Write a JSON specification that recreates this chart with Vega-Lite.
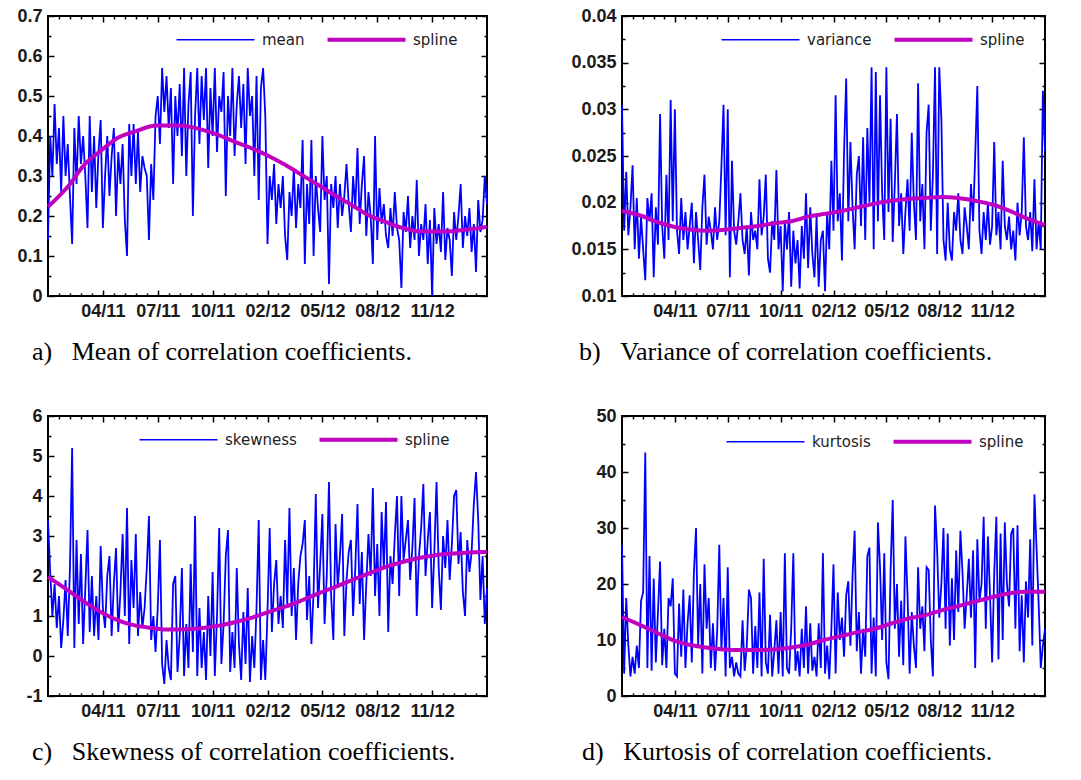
{
"$schema": "https://vega.github.io/schema/vega-lite/v6.json",
"background": "white",
"padding": {"left": 15, "top": 6, "right": 5, "bottom": 5},
"bounds": "flush",
"columns": 2,
"spacing": {"row": 120, "column": 135},
"resolve": {"scale": {"color": "independent"}, "legend": {"color": "independent"}},
"config": {
  "view": {"stroke": "#000", "strokeWidth": 2},
  "axis": {"grid": false, "domain": false, "tickColor": "#000", "tickWidth": 1.5, "labelFont": "Liberation Sans", "labelFontWeight": "bold", "labelFontSize": 18, "labelColor": "#1a1a1a", "labelFlush": false, "labelOverlap": false, "labelPadding": 12},
  "legend": {"orient": "none", "direction": "horizontal", "symbolType": "M-4,0H4", "symbolSize": 380, "labelOffset": 39, "columnPadding": 14, "labelFont": "DejaVu Sans", "labelFontSize": 15, "labelColor": "#222", "padding": 0, "symbolStrokeWidth": 1.5},
  "title": {"font": "Liberation Serif", "fontSize": 26, "fontWeight": "normal", "color": "#000", "orient": "bottom", "anchor": "start", "frame": "group", "offset": 19}
},
"datasets": {
"raw": [
{"i":0,"m":0.14,"v":0.0305,"s":3.4,"k":27},
{"i":1,"m":0.40,"v":0.017,"s":2.1,"k":4},
{"i":2,"m":0.30,"v":0.0233,"s":1.0,"k":17.5},
{"i":3,"m":0.48,"v":0.0165,"s":1.8,"k":9},
{"i":4,"m":0.33,"v":0.0195,"s":0.7,"k":3.5},
{"i":5,"m":0.42,"v":0.024,"s":1.5,"k":7},
{"i":6,"m":0.26,"v":0.015,"s":0.2,"k":4},
{"i":7,"m":0.45,"v":0.0205,"s":0.9,"k":9},
{"i":8,"m":0.30,"v":0.014,"s":1.9,"k":5},
{"i":9,"m":0.38,"v":0.0185,"s":0.5,"k":17},
{"i":10,"m":0.25,"v":0.015,"s":2.2,"k":18.5},
{"i":11,"m":0.13,"v":0.0117,"s":5.2,"k":43.5},
{"i":12,"m":0.42,"v":0.0205,"s":0.2,"k":5},
{"i":13,"m":0.28,"v":0.018,"s":2.9,"k":25},
{"i":14,"m":0.45,"v":0.021,"s":0.8,"k":4.5},
{"i":15,"m":0.33,"v":0.012,"s":2.55,"k":21},
{"i":16,"m":0.40,"v":0.0195,"s":0.3,"k":6},
{"i":17,"m":0.30,"v":0.0155,"s":1.7,"k":15},
{"i":18,"m":0.17,"v":0.0295,"s":3.15,"k":24},
{"i":19,"m":0.45,"v":0.0175,"s":0.6,"k":5.5},
{"i":20,"m":0.26,"v":0.014,"s":2.0,"k":12},
{"i":21,"m":0.40,"v":0.023,"s":0.5,"k":5},
{"i":22,"m":0.22,"v":0.016,"s":1.5,"k":17.5},
{"i":23,"m":0.36,"v":0.031,"s":0.4,"k":16},
{"i":24,"m":0.44,"v":0.018,"s":2.75,"k":21},
{"i":25,"m":0.17,"v":0.03,"s":1.2,"k":4},
{"i":26,"m":0.30,"v":0.017,"s":0.7,"k":3.5},
{"i":27,"m":0.40,"v":0.0145,"s":2.0,"k":16.5},
{"i":28,"m":0.25,"v":0.0205,"s":2.5,"k":7},
{"i":29,"m":0.35,"v":0.016,"s":0.5,"k":19},
{"i":30,"m":0.42,"v":0.019,"s":1.8,"k":5},
{"i":31,"m":0.20,"v":0.015,"s":2.7,"k":13},
{"i":32,"m":0.36,"v":0.0175,"s":0.6,"k":18},
{"i":33,"m":0.28,"v":0.02,"s":1.6,"k":6},
{"i":34,"m":0.38,"v":0.0135,"s":3.05,"k":22},
{"i":35,"m":0.19,"v":0.019,"s":1.0,"k":30},
{"i":36,"m":0.10,"v":0.016,"s":3.7,"k":9},
{"i":37,"m":0.43,"v":0.0128,"s":0.3,"k":20},
{"i":38,"m":0.30,"v":0.0195,"s":2.4,"k":4},
{"i":39,"m":0.43,"v":0.023,"s":1.2,"k":23.5},
{"i":40,"m":0.28,"v":0.0155,"s":3.05,"k":12},
{"i":41,"m":0.41,"v":0.0185,"s":0.5,"k":17.5},
{"i":42,"m":0.26,"v":0.017,"s":1.6,"k":5},
{"i":43,"m":0.35,"v":0.015,"s":0.7,"k":13},
{"i":44,"m":0.32,"v":0.0195,"s":1.2,"k":4.5},
{"i":45,"m":0.30,"v":0.016,"s":2.2,"k":11.5},
{"i":46,"m":0.14,"v":0.018,"s":3.5,"k":27},
{"i":47,"m":0.33,"v":0.0238,"s":0.4,"k":8},
{"i":48,"m":0.24,"v":0.0305,"s":1.0,"k":17.5},
{"i":49,"m":0.45,"v":0.0165,"s":0.1,"k":3.5},
{"i":50,"m":0.50,"v":0.03,"s":1.2,"k":23},
{"i":51,"m":0.38,"v":0.012,"s":2.9,"k":5},
{"i":52,"m":0.57,"v":0.0245,"s":-0.2,"k":7},
{"i":53,"m":0.46,"v":0.017,"s":-0.7,"k":3.5},
{"i":54,"m":0.55,"v":0.0155,"s":0.4,"k":6},
{"i":55,"m":0.42,"v":0.018,"s":-0.3,"k":4},
{"i":56,"m":0.52,"v":0.021,"s":-0.6,"k":3.5},
{"i":57,"m":0.28,"v":0.016,"s":1.8,"k":13.5},
{"i":58,"m":0.50,"v":0.0145,"s":2.0,"k":4.5},
{"i":59,"m":0.40,"v":0.0175,"s":-0.4,"k":9},
{"i":60,"m":0.53,"v":0.0122,"s":0.5,"k":19},
{"i":61,"m":0.35,"v":0.019,"s":2.2,"k":17.5},
{"i":62,"m":0.57,"v":0.016,"s":-0.5,"k":4},
{"i":63,"m":0.30,"v":0.017,"s":0.8,"k":12.5},
{"i":64,"m":0.48,"v":0.015,"s":-0.3,"k":5},
{"i":65,"m":0.56,"v":0.0225,"s":2.3,"k":18.5},
{"i":66,"m":0.20,"v":0.0165,"s":0.1,"k":3.5},
{"i":67,"m":0.45,"v":0.0185,"s":3.5,"k":24.5},
{"i":68,"m":0.57,"v":0.023,"s":-0.5,"k":6},
{"i":69,"m":0.38,"v":0.014,"s":1.2,"k":4},
{"i":70,"m":0.55,"v":0.0125,"s":-0.3,"k":14.5},
{"i":71,"m":0.44,"v":0.018,"s":0.6,"k":3.5},
{"i":72,"m":0.57,"v":0.016,"s":-0.6,"k":8},
{"i":73,"m":0.32,"v":0.0235,"s":1.5,"k":13.5},
{"i":74,"m":0.52,"v":0.015,"s":0.0,"k":4},
{"i":75,"m":0.40,"v":0.0175,"s":2.1,"k":15},
{"i":76,"m":0.57,"v":0.0105,"s":-0.5,"k":3.5},
{"i":77,"m":0.36,"v":0.018,"s":1.0,"k":25.5},
{"i":78,"m":0.50,"v":0.015,"s":3.2,"k":5},
{"i":79,"m":0.46,"v":0.019,"s":-0.2,"k":4},
{"i":80,"m":0.56,"v":0.011,"s":0.8,"k":12},
{"i":81,"m":0.25,"v":0.017,"s":2.5,"k":25.5},
{"i":82,"m":0.50,"v":0.0135,"s":3.15,"k":4.5},
{"i":83,"m":0.40,"v":0.016,"s":-0.4,"k":8},
{"i":84,"m":0.57,"v":0.0108,"s":0.6,"k":3.5},
{"i":85,"m":0.35,"v":0.0175,"s":-0.3,"k":12},
{"i":86,"m":0.48,"v":0.014,"s":2.2,"k":5},
{"i":87,"m":0.55,"v":0.021,"s":0.3,"k":16},
{"i":88,"m":0.42,"v":0.013,"s":-0.6,"k":4},
{"i":89,"m":0.53,"v":0.0195,"s":1.1,"k":13},
{"i":90,"m":0.33,"v":0.0145,"s":-0.2,"k":4.5},
{"i":91,"m":0.57,"v":0.012,"s":1.7,"k":7},
{"i":92,"m":0.45,"v":0.0185,"s":-0.65,"k":3.5},
{"i":93,"m":0.50,"v":0.011,"s":0.5,"k":13},
{"i":94,"m":0.30,"v":0.016,"s":-0.3,"k":5},
{"i":95,"m":0.55,"v":0.017,"s":1.2,"k":25.5},
{"i":96,"m":0.24,"v":0.0105,"s":3.4,"k":4},
{"i":97,"m":0.52,"v":0.019,"s":-0.6,"k":9},
{"i":98,"m":0.57,"v":0.015,"s":0.4,"k":3},
{"i":99,"m":0.45,"v":0.0245,"s":-0.6,"k":12},
{"i":100,"m":0.13,"v":0.017,"s":1.1,"k":23.5},
{"i":101,"m":0.30,"v":0.0315,"s":3.2,"k":4},
{"i":102,"m":0.24,"v":0.018,"s":0.6,"k":18.5},
{"i":103,"m":0.33,"v":0.021,"s":1.8,"k":10},
{"i":104,"m":0.18,"v":0.0138,"s":2.4,"k":14},
{"i":105,"m":0.28,"v":0.0255,"s":0.8,"k":7},
{"i":106,"m":0.22,"v":0.0333,"s":1.5,"k":18},
{"i":107,"m":0.30,"v":0.018,"s":0.7,"k":20.5},
{"i":108,"m":0.15,"v":0.0265,"s":2.9,"k":9},
{"i":109,"m":0.09,"v":0.0195,"s":1.3,"k":21.5},
{"i":110,"m":0.26,"v":0.015,"s":3.7,"k":29.5},
{"i":111,"m":0.20,"v":0.023,"s":1.0,"k":8},
{"i":112,"m":0.32,"v":0.025,"s":2.2,"k":15},
{"i":113,"m":0.17,"v":0.0175,"s":0.4,"k":4},
{"i":114,"m":0.28,"v":0.027,"s":1.8,"k":12},
{"i":115,"m":0.22,"v":0.016,"s":2.5,"k":7},
{"i":116,"m":0.39,"v":0.028,"s":2.8,"k":25},
{"i":117,"m":0.08,"v":0.02,"s":3.4,"k":26.5},
{"i":118,"m":0.28,"v":0.0345,"s":0.9,"k":4},
{"i":119,"m":0.18,"v":0.015,"s":2.0,"k":14},
{"i":120,"m":0.39,"v":0.034,"s":0.3,"k":3.5},
{"i":121,"m":0.10,"v":0.018,"s":1.6,"k":31},
{"i":122,"m":0.30,"v":0.0315,"s":4.05,"k":23},
{"i":123,"m":0.22,"v":0.021,"s":1.2,"k":10},
{"i":124,"m":0.16,"v":0.016,"s":2.3,"k":25.5},
{"i":125,"m":0.40,"v":0.0345,"s":3.55,"k":6},
{"i":126,"m":0.24,"v":0.019,"s":0.8,"k":3},
{"i":127,"m":0.30,"v":0.029,"s":2.0,"k":22.5},
{"i":128,"m":0.03,"v":0.0158,"s":4.35,"k":35},
{"i":129,"m":0.28,"v":0.022,"s":1.5,"k":12},
{"i":130,"m":0.22,"v":0.0295,"s":0.4,"k":20},
{"i":131,"m":0.30,"v":0.0175,"s":3.3,"k":7},
{"i":132,"m":0.17,"v":0.021,"s":1.7,"k":17},
{"i":133,"m":0.28,"v":0.0145,"s":2.5,"k":5.5},
{"i":134,"m":0.20,"v":0.019,"s":3.55,"k":28.5},
{"i":135,"m":0.25,"v":0.0225,"s":0.5,"k":18},
{"i":136,"m":0.33,"v":0.017,"s":1.9,"k":4},
{"i":137,"m":0.23,"v":0.0275,"s":2.6,"k":15},
{"i":138,"m":0.16,"v":0.02,"s":2.9,"k":9},
{"i":139,"m":0.30,"v":0.016,"s":1.0,"k":5},
{"i":140,"m":0.22,"v":0.0328,"s":2.2,"k":23},
{"i":141,"m":0.37,"v":0.018,"s":3.8,"k":12},
{"i":142,"m":0.18,"v":0.022,"s":1.3,"k":16},
{"i":143,"m":0.28,"v":0.015,"s":2.6,"k":8},
{"i":144,"m":0.35,"v":0.0275,"s":0.4,"k":23},
{"i":145,"m":0.15,"v":0.0305,"s":1.8,"k":22.5},
{"i":146,"m":0.26,"v":0.017,"s":3.05,"k":10},
{"i":147,"m":0.20,"v":0.023,"s":2.0,"k":3.5},
{"i":148,"m":0.08,"v":0.0345,"s":4.2,"k":34},
{"i":149,"m":0.40,"v":0.0145,"s":1.5,"k":26},
{"i":150,"m":0.14,"v":0.0345,"s":2.8,"k":14},
{"i":151,"m":0.27,"v":0.029,"s":1.0,"k":20},
{"i":152,"m":0.18,"v":0.016,"s":3.6,"k":30},
{"i":153,"m":0.23,"v":0.0138,"s":2.2,"k":12},
{"i":154,"m":0.15,"v":0.02,"s":3.85,"k":29},
{"i":155,"m":0.12,"v":0.015,"s":0.6,"k":9},
{"i":156,"m":0.22,"v":0.0138,"s":2.5,"k":21},
{"i":157,"m":0.15,"v":0.019,"s":1.8,"k":10},
{"i":158,"m":0.26,"v":0.017,"s":3.0,"k":26},
{"i":159,"m":0.17,"v":0.021,"s":4.0,"k":15},
{"i":160,"m":0.14,"v":0.016,"s":1.5,"k":29.5},
{"i":161,"m":0.02,"v":0.0145,"s":4.0,"k":22},
{"i":162,"m":0.21,"v":0.0195,"s":2.4,"k":12},
{"i":163,"m":0.16,"v":0.0175,"s":2.9,"k":18},
{"i":164,"m":0.25,"v":0.015,"s":3.4,"k":24.5},
{"i":165,"m":0.12,"v":0.022,"s":1.9,"k":14},
{"i":166,"m":0.20,"v":0.018,"s":2.7,"k":26},
{"i":167,"m":0.14,"v":0.025,"s":3.95,"k":5},
{"i":168,"m":0.29,"v":0.0325,"s":1.0,"k":28},
{"i":169,"m":0.10,"v":0.017,"s":2.5,"k":17},
{"i":170,"m":0.18,"v":0.0145,"s":3.2,"k":20},
{"i":171,"m":0.14,"v":0.019,"s":4.3,"k":32},
{"i":172,"m":0.23,"v":0.016,"s":2.0,"k":12},
{"i":173,"m":0.08,"v":0.02,"s":2.9,"k":28.5},
{"i":174,"m":0.19,"v":0.0155,"s":3.6,"k":18},
{"i":175,"m":0.00,"v":0.0175,"s":1.2,"k":6},
{"i":176,"m":0.22,"v":0.0265,"s":2.6,"k":22},
{"i":177,"m":0.13,"v":0.0165,"s":4.35,"k":32},
{"i":178,"m":0.18,"v":0.019,"s":2.2,"k":6.5},
{"i":179,"m":0.11,"v":0.015,"s":1.15,"k":29},
{"i":180,"m":0.26,"v":0.0245,"s":3.0,"k":10},
{"i":181,"m":0.09,"v":0.0175,"s":2.2,"k":31},
{"i":182,"m":0.17,"v":0.016,"s":3.4,"k":20},
{"i":183,"m":0.14,"v":0.0185,"s":1.9,"k":16},
{"i":184,"m":0.05,"v":0.015,"s":2.8,"k":29},
{"i":185,"m":0.21,"v":0.017,"s":4.0,"k":30},
{"i":186,"m":0.14,"v":0.0138,"s":4.15,"k":12},
{"i":187,"m":0.20,"v":0.02,"s":2.3,"k":30.5},
{"i":188,"m":0.28,"v":0.0165,"s":3.1,"k":8},
{"i":189,"m":0.12,"v":0.019,"s":1.6,"k":18},
{"i":190,"m":0.20,"v":0.027,"s":1.0,"k":6},
{"i":191,"m":0.15,"v":0.0175,"s":2.9,"k":20.5},
{"i":192,"m":0.22,"v":0.016,"s":2.1,"k":14},
{"i":193,"m":0.11,"v":0.019,"s":2.6,"k":28},
{"i":194,"m":0.18,"v":0.0148,"s":3.8,"k":9},
{"i":195,"m":0.06,"v":0.0225,"s":4.6,"k":36},
{"i":196,"m":0.24,"v":0.015,"s":3.4,"k":26.5},
{"i":197,"m":0.16,"v":0.018,"s":1.4,"k":16.5},
{"i":198,"m":0.19,"v":0.015,"s":2.5,"k":5},
{"i":199,"m":0.30,"v":0.032,"s":0.8,"k":9},
{"i":200,"m":0.23,"v":0.0255,"s":1.7,"k":12}
],
"sa": [{"i":0,"y":0.223},{"i":9,"y":0.273},{"i":16.5,"y":0.328},{"i":24.5,"y":0.365},{"i":32,"y":0.396},{"i":39.5,"y":0.411},{"i":49.5,"y":0.426},{"i":59.5,"y":0.426},{"i":70,"y":0.416},{"i":77.5,"y":0.403},{"i":85,"y":0.386},{"i":92.5,"y":0.37},{"i":100.5,"y":0.35},{"i":108,"y":0.328},{"i":115.5,"y":0.303},{"i":123,"y":0.278},{"i":130.5,"y":0.252},{"i":138.5,"y":0.227},{"i":146,"y":0.202},{"i":153.5,"y":0.186},{"i":161,"y":0.171},{"i":168.5,"y":0.162},{"i":176.5,"y":0.161},{"i":184,"y":0.162},{"i":191.5,"y":0.166},{"i":200,"y":0.173}],
"sb": [{"i":0,"y":0.0191},{"i":9,"y":0.0186},{"i":17,"y":0.0179},{"i":25,"y":0.0174},{"i":33,"y":0.0171},{"i":40.5,"y":0.017},{"i":48.5,"y":0.0171},{"i":56.5,"y":0.0173},{"i":64.5,"y":0.0175},{"i":72,"y":0.0178},{"i":80,"y":0.018},{"i":88,"y":0.0185},{"i":96,"y":0.0188},{"i":104,"y":0.0191},{"i":111.5,"y":0.0195},{"i":119.5,"y":0.0199},{"i":127.5,"y":0.0202},{"i":135.5,"y":0.0204},{"i":143,"y":0.0205},{"i":151,"y":0.0206},{"i":159,"y":0.0205},{"i":167,"y":0.0202},{"i":175,"y":0.0198},{"i":182.5,"y":0.0192},{"i":190.5,"y":0.0184},{"i":200,"y":0.0176}],
"sc": [{"i":0,"y":1.98},{"i":10,"y":1.61},{"i":17.5,"y":1.32},{"i":25,"y":1.07},{"i":32.5,"y":0.88},{"i":40,"y":0.76},{"i":47.5,"y":0.7},{"i":55.5,"y":0.66},{"i":63,"y":0.67},{"i":70.5,"y":0.7},{"i":78,"y":0.76},{"i":85.5,"y":0.85},{"i":93,"y":0.96},{"i":101,"y":1.11},{"i":108.5,"y":1.24},{"i":116,"y":1.4},{"i":123.5,"y":1.57},{"i":131,"y":1.73},{"i":138.5,"y":1.9},{"i":146,"y":2.06},{"i":154,"y":2.23},{"i":161.5,"y":2.35},{"i":169,"y":2.45},{"i":176.5,"y":2.52},{"i":184,"y":2.56},{"i":191.5,"y":2.59},{"i":200,"y":2.6}],
"sd": [{"i":0,"y":14.1},{"i":9,"y":12.6},{"i":17,"y":11.2},{"i":25,"y":9.85},{"i":33,"y":9.07},{"i":40.5,"y":8.6},{"i":48.5,"y":8.3},{"i":56.5,"y":8.2},{"i":64.5,"y":8.2},{"i":72,"y":8.3},{"i":80,"y":8.66},{"i":88,"y":9.2},{"i":95.5,"y":10},{"i":103.5,"y":10.7},{"i":111.5,"y":11.4},{"i":119.5,"y":12},{"i":127,"y":12.9},{"i":135,"y":13.8},{"i":143,"y":14.4},{"i":151,"y":15.3},{"i":158.5,"y":16},{"i":166.5,"y":16.8},{"i":174.5,"y":17.6},{"i":182.5,"y":18.3},{"i":190,"y":18.6},{"i":200,"y":18.6}]
},
"concat": [
{
 "width": 439, "height": 280,
 "title": {"text": "a)\u00a0\u00a0\u00a0Mean of correlation coefficients.", "dx": -16},
 "resolve": {"axis": {"x": "independent", "y": "independent"}},
 "layer": [
  {"data": {"name": "raw"}, "mark": {"type": "line", "strokeWidth": 1.8},
   "encoding": {
    "x": {"field": "i", "type": "quantitative", "title": null, "scale": {"domain": [0, 200], "nice": false, "zero": false}, "axis": {"orient": "bottom", "values": [25,50,75,100,125,150,175], "tickSize": -6, "labelExpr": "['','04/11','07/11','10/11','02/12','05/12','08/12','11/12',''][round(datum.value/25)]"}},
    "y": {"field": "m", "type": "quantitative", "title": null, "scale": {"domain": [0, 0.7], "nice": false, "zero": false}, "axis": {"orient": "left", "values": [0,0.1,0.2,0.3,0.4,0.5,0.6,0.7], "tickSize": -6, "labelExpr": "toString(datum.value)"}},
    "color": {"datum": "mean", "type": "nominal", "scale": {"domain": ["mean", "spline"], "range": ["#0000ff", "#c000c0"]}, "legend": {"title": null, "legendX": 160, "legendY": 16, "encode": {"symbols": {"update": {"strokeWidth": {"signal": "datum.value === 'spline' ? 4 : 1.5"}}}}}}
   }},
  {"data": {"name": "sa"}, "mark": {"type": "line", "strokeWidth": 4, "interpolate": "monotone"},
   "encoding": {
    "x": {"field": "i", "type": "quantitative", "title": null, "axis": {"orient": "top", "values": [25,50,75,100,125,150,175], "tickSize": -6, "labels": false}},
    "y": {"field": "y", "type": "quantitative", "title": null, "axis": {"orient": "right", "values": [0,0.1,0.2,0.3,0.4,0.5,0.6,0.7], "tickSize": -6, "labels": false}},
    "color": {"datum": "spline", "type": "nominal"}
   }},
  {"data": {"name": "sa"}, "mark": {"type": "line", "opacity": 0},
   "encoding": {
    "x": {"field": "i", "type": "quantitative", "title": null, "axis": {"orient": "bottom", "values": [5,10,15,20,30,35,40,45,55,60,65,70,80,85,90,95,105,110,115,120,130,135,140,145,155,160,165,170,180,185,190,195], "tickSize": -3, "labels": false}},
    "y": {"field": "y", "type": "quantitative", "title": null, "axis": {"orient": "left", "values": [0.05,0.15,0.25,0.35,0.45,0.55,0.65], "tickSize": -3, "labels": false}}
   }},
  {"data": {"name": "sa"}, "mark": {"type": "line", "opacity": 0},
   "encoding": {
    "x": {"field": "i", "type": "quantitative", "title": null, "axis": {"orient": "top", "values": [5,10,15,20,30,35,40,45,55,60,65,70,80,85,90,95,105,110,115,120,130,135,140,145,155,160,165,170,180,185,190,195], "tickSize": -3, "labels": false}},
    "y": {"field": "y", "type": "quantitative", "title": null, "axis": {"orient": "right", "values": [0.05,0.15,0.25,0.35,0.45,0.55,0.65], "tickSize": -3, "labels": false}}
   }}
 ]
},
{
 "width": 423, "height": 280,
 "title": {"text": "b)\u00a0\u00a0\u00a0Variance of correlation coefficients.", "dx": -43},
 "resolve": {"axis": {"x": "independent", "y": "independent"}},
 "layer": [
  {"data": {"name": "raw"}, "mark": {"type": "line", "strokeWidth": 1.8},
   "encoding": {
    "x": {"field": "i", "type": "quantitative", "title": null, "scale": {"domain": [0, 200], "nice": false, "zero": false}, "axis": {"orient": "bottom", "values": [25,50,75,100,125,150,175], "tickSize": -6, "labelExpr": "['','04/11','07/11','10/11','02/12','05/12','08/12','11/12',''][round(datum.value/25)]"}},
    "y": {"field": "v", "type": "quantitative", "title": null, "scale": {"domain": [0.01, 0.04], "nice": false, "zero": false}, "axis": {"orient": "left", "values": [0.01,0.015,0.02,0.025,0.03,0.035,0.04], "tickSize": -6, "labelExpr": "toString(datum.value)"}},
    "color": {"datum": "variance", "type": "nominal", "scale": {"domain": ["variance", "spline"], "range": ["#0000ff", "#c000c0"]}, "legend": {"title": null, "legendX": 131, "legendY": 16, "encode": {"symbols": {"update": {"strokeWidth": {"signal": "datum.value === 'spline' ? 4 : 1.5"}}}}}}
   }},
  {"data": {"name": "sb"}, "mark": {"type": "line", "strokeWidth": 4, "interpolate": "monotone"},
   "encoding": {
    "x": {"field": "i", "type": "quantitative", "title": null, "axis": {"orient": "top", "values": [25,50,75,100,125,150,175], "tickSize": -6, "labels": false}},
    "y": {"field": "y", "type": "quantitative", "title": null, "axis": {"orient": "right", "values": [0.01,0.015,0.02,0.025,0.03,0.035,0.04], "tickSize": -6, "labels": false}},
    "color": {"datum": "spline", "type": "nominal"}
   }},
  {"data": {"name": "sb"}, "mark": {"type": "line", "opacity": 0},
   "encoding": {
    "x": {"field": "i", "type": "quantitative", "title": null, "axis": {"orient": "bottom", "values": [5,10,15,20,30,35,40,45,55,60,65,70,80,85,90,95,105,110,115,120,130,135,140,145,155,160,165,170,180,185,190,195], "tickSize": -3, "labels": false}},
    "y": {"field": "y", "type": "quantitative", "title": null, "axis": {"orient": "left", "values": [0.0125,0.0175,0.0225,0.0275,0.0325,0.0375], "tickSize": -3, "labels": false}}
   }},
  {"data": {"name": "sb"}, "mark": {"type": "line", "opacity": 0},
   "encoding": {
    "x": {"field": "i", "type": "quantitative", "title": null, "axis": {"orient": "top", "values": [5,10,15,20,30,35,40,45,55,60,65,70,80,85,90,95,105,110,115,120,130,135,140,145,155,160,165,170,180,185,190,195], "tickSize": -3, "labels": false}},
    "y": {"field": "y", "type": "quantitative", "title": null, "axis": {"orient": "right", "values": [0.0125,0.0175,0.0225,0.0275,0.0325,0.0375], "tickSize": -3, "labels": false}}
   }}
 ]
},
{
 "width": 439, "height": 280,
 "title": {"text": "c)\u00a0\u00a0\u00a0Skewness of correlation coefficients.", "dx": -16},
 "resolve": {"axis": {"x": "independent", "y": "independent"}},
 "layer": [
  {"data": {"name": "raw"}, "mark": {"type": "line", "strokeWidth": 1.8},
   "encoding": {
    "x": {"field": "i", "type": "quantitative", "title": null, "scale": {"domain": [0, 200], "nice": false, "zero": false}, "axis": {"orient": "bottom", "values": [25,50,75,100,125,150,175], "tickSize": -6, "labelExpr": "['','04/11','07/11','10/11','02/12','05/12','08/12','11/12',''][round(datum.value/25)]"}},
    "y": {"field": "s", "type": "quantitative", "title": null, "scale": {"domain": [-1, 6], "nice": false, "zero": false}, "axis": {"orient": "left", "values": [-1,0,1,2,3,4,5,6], "tickSize": -6, "labelExpr": "toString(datum.value)"}},
    "color": {"datum": "skewness", "type": "nominal", "scale": {"domain": ["skewness", "spline"], "range": ["#0000ff", "#c000c0"]}, "legend": {"title": null, "legendX": 123, "legendY": 16, "encode": {"symbols": {"update": {"strokeWidth": {"signal": "datum.value === 'spline' ? 4 : 1.5"}}}}}}
   }},
  {"data": {"name": "sc"}, "mark": {"type": "line", "strokeWidth": 4, "interpolate": "monotone"},
   "encoding": {
    "x": {"field": "i", "type": "quantitative", "title": null, "axis": {"orient": "top", "values": [25,50,75,100,125,150,175], "tickSize": -6, "labels": false}},
    "y": {"field": "y", "type": "quantitative", "title": null, "axis": {"orient": "right", "values": [-1,0,1,2,3,4,5,6], "tickSize": -6, "labels": false}},
    "color": {"datum": "spline", "type": "nominal"}
   }},
  {"data": {"name": "sc"}, "mark": {"type": "line", "opacity": 0},
   "encoding": {
    "x": {"field": "i", "type": "quantitative", "title": null, "axis": {"orient": "bottom", "values": [5,10,15,20,30,35,40,45,55,60,65,70,80,85,90,95,105,110,115,120,130,135,140,145,155,160,165,170,180,185,190,195], "tickSize": -3, "labels": false}},
    "y": {"field": "y", "type": "quantitative", "title": null, "axis": {"orient": "left", "values": [-0.5,0.5,1.5,2.5,3.5,4.5,5.5], "tickSize": -3, "labels": false}}
   }},
  {"data": {"name": "sc"}, "mark": {"type": "line", "opacity": 0},
   "encoding": {
    "x": {"field": "i", "type": "quantitative", "title": null, "axis": {"orient": "top", "values": [5,10,15,20,30,35,40,45,55,60,65,70,80,85,90,95,105,110,115,120,130,135,140,145,155,160,165,170,180,185,190,195], "tickSize": -3, "labels": false}},
    "y": {"field": "y", "type": "quantitative", "title": null, "axis": {"orient": "right", "values": [-0.5,0.5,1.5,2.5,3.5,4.5,5.5], "tickSize": -3, "labels": false}}
   }}
 ]
},
{
 "width": 423, "height": 280,
 "title": {"text": "d)\u00a0\u00a0\u00a0Kurtosis of correlation coefficients.", "dx": -40},
 "resolve": {"axis": {"x": "independent", "y": "independent"}},
 "layer": [
  {"data": {"name": "raw"}, "mark": {"type": "line", "strokeWidth": 1.8},
   "encoding": {
    "x": {"field": "i", "type": "quantitative", "title": null, "scale": {"domain": [0, 200], "nice": false, "zero": false}, "axis": {"orient": "bottom", "values": [25,50,75,100,125,150,175], "tickSize": -6, "labelExpr": "['','04/11','07/11','10/11','02/12','05/12','08/12','11/12',''][round(datum.value/25)]"}},
    "y": {"field": "k", "type": "quantitative", "title": null, "scale": {"domain": [0, 50], "nice": false, "zero": false}, "axis": {"orient": "left", "values": [0,10,20,30,40,50], "tickSize": -6, "labelExpr": "toString(datum.value)"}},
    "color": {"datum": "kurtosis", "type": "nominal", "scale": {"domain": ["kurtosis", "spline"], "range": ["#0000ff", "#c000c0"]}, "legend": {"title": null, "legendX": 136, "legendY": 18, "encode": {"symbols": {"update": {"strokeWidth": {"signal": "datum.value === 'spline' ? 4 : 1.5"}}}}}}
   }},
  {"data": {"name": "sd"}, "mark": {"type": "line", "strokeWidth": 4, "interpolate": "monotone"},
   "encoding": {
    "x": {"field": "i", "type": "quantitative", "title": null, "axis": {"orient": "top", "values": [25,50,75,100,125,150,175], "tickSize": -6, "labels": false}},
    "y": {"field": "y", "type": "quantitative", "title": null, "axis": {"orient": "right", "values": [0,10,20,30,40,50], "tickSize": -6, "labels": false}},
    "color": {"datum": "spline", "type": "nominal"}
   }},
  {"data": {"name": "sd"}, "mark": {"type": "line", "opacity": 0},
   "encoding": {
    "x": {"field": "i", "type": "quantitative", "title": null, "axis": {"orient": "bottom", "values": [5,10,15,20,30,35,40,45,55,60,65,70,80,85,90,95,105,110,115,120,130,135,140,145,155,160,165,170,180,185,190,195], "tickSize": -3, "labels": false}},
    "y": {"field": "y", "type": "quantitative", "title": null, "axis": {"orient": "left", "values": [5,15,25,35,45], "tickSize": -3, "labels": false}}
   }},
  {"data": {"name": "sd"}, "mark": {"type": "line", "opacity": 0},
   "encoding": {
    "x": {"field": "i", "type": "quantitative", "title": null, "axis": {"orient": "top", "values": [5,10,15,20,30,35,40,45,55,60,65,70,80,85,90,95,105,110,115,120,130,135,140,145,155,160,165,170,180,185,190,195], "tickSize": -3, "labels": false}},
    "y": {"field": "y", "type": "quantitative", "title": null, "axis": {"orient": "right", "values": [5,15,25,35,45], "tickSize": -3, "labels": false}}
   }}
 ]
}
]
}
